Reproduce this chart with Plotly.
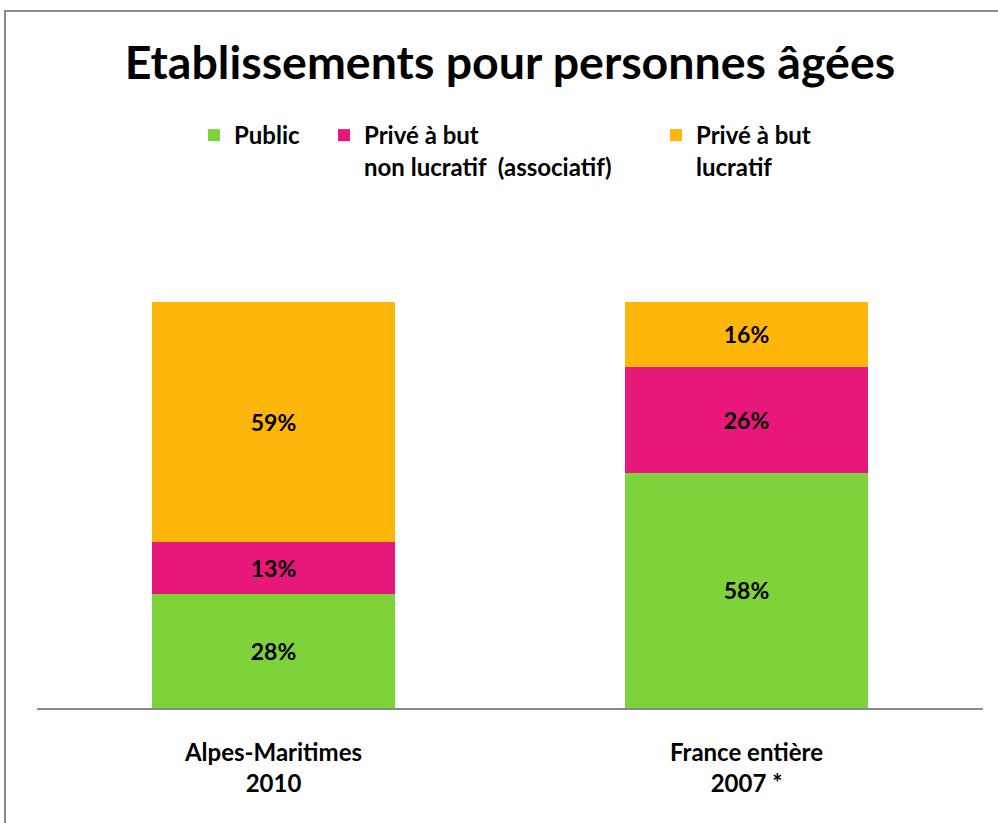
import plotly.graph_objects as go

categories = ["Alpes-Maritimes<br>2010", "France entière<br>2007 *"]
public = [28, 58]
prive_non_lucratif = [13, 26]
prive_lucratif = [59, 16]
series_names = ["Public", "Privé à but<br>non lucratif  (associatif)", "Privé à but<br>lucratif"]
colors = ["#7ED33B", "#E8177A", "#FFB60B"]

FONT = "Lato"
fig = go.Figure()
for i, (vals, name, col) in enumerate(zip([public, prive_non_lucratif, prive_lucratif], series_names, colors)):
    fig.add_trace(go.Bar(
        x=categories, y=vals, name=name,
        marker=dict(color=col, line=dict(width=0)),
        text=[f"{v}%" for v in vals], textposition="inside", insidetextanchor="middle",
        textfont=dict(family=FONT, size=23, color="black", weight="bold"),
        legend="legend" if i == 0 else f"legend{i+1}",
    ))

W, H = 998, 823
L, R, T, B = 37, 15, 302, 115
pw, ph = W - L - R, H - T - B

def px(x):
    return (x - L) / pw

def py(y):
    return (H - B - y) / ph

leg_common = dict(orientation="v", xanchor="left", yanchor="top", valign="top",
                  font=dict(family=FONT, size=24, color="black", weight="bold"),
                  bgcolor="rgba(0,0,0,0)", itemclick=False, itemdoubleclick=False,
                  itemwidth=30, tracegroupgap=0)

fig.update_layout(
    width=W, height=H,
    margin=dict(l=L, r=R, t=T, b=B),
    barmode="stack", bargap=0.486,
    plot_bgcolor="white", paper_bgcolor="white",
    title=dict(text="<b>Etablissements pour personnes âgées</b>", x=0.511, xanchor="center",
               y=1 - 63 / H, yanchor="middle", font=dict(family=FONT, size=46.5, color="black")),
    legend=dict(x=px(194), y=py(113), **leg_common),
    legend2=dict(x=px(324), y=py(113), **leg_common),
    legend3=dict(x=px(656), y=py(113), **leg_common),
    xaxis=dict(showline=True, linecolor="#888888", linewidth=2, ticks="", showgrid=False,
               tickfont=dict(family=FONT, size=24, color="black", weight="bold"),
               ticklabelstandoff=22, range=[-0.5, 1.5]),
    yaxis=dict(visible=False, range=[0, 100], showgrid=False),
    shapes=[dict(type="rect", xref="paper", yref="paper",
                 x0=px(5), x1=px(1100), y0=py(11), y1=py(900),
                 line=dict(color="#8c8c8c", width=2), fillcolor="rgba(0,0,0,0)", layer="below")],
    showlegend=True,
)
fig.write_html("out.html", config={"displayModeBar": False},
               post_script="document.body.style.margin='0px';")
